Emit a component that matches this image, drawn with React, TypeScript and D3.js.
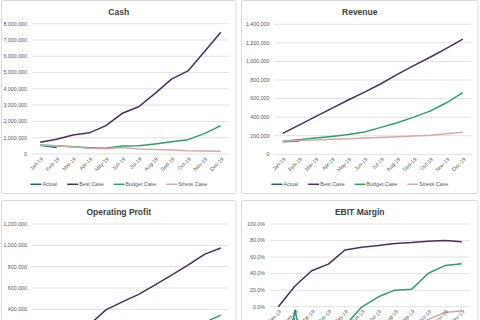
import React, { useEffect, useRef } from 'react';
import * as d3 from 'd3';

const months = ['Jan-19', 'Feb-19', 'Mar-19', 'Apr-19', 'May-19', 'Jun-19', 'Jul-19', 'Aug-19', 'Sep-19', 'Oct-19', 'Nov-19', 'Dec-19'];
const seriesNames = ['Actual', 'Best Case', 'Budget Case', 'Stress Case'];
const seriesColors = ['#1f5f7f', '#4a2f5e', '#2f9e6c', '#d2aaa6'];

const cashActual = [530000, 400000];
const cashBest = [720000, 900000, 1170000, 1300000, 1740000, 2500000, 2900000, 3720000, 4600000, 5100000, 6280000, 7480000];
const cashBudget = [540000, 500000, 440000, 390000, 360000, 490000, 500000, 620000, 750000, 880000, 1250000, 1740000];
const cashStress = [540000, 500000, 430000, 350000, 320000, 400000, 310000, 280000, 250000, 200000, 190000, 170000];

const revActual = [135000, 142000];
const revBest = [225000, 315000, 405000, 495000, 585000, 670000, 760000, 860000, 955000, 1045000, 1140000, 1240000];
const revBudget = [140000, 158000, 175000, 192000, 212000, 240000, 290000, 340000, 400000, 465000, 555000, 665000];
const revStress = [140000, 148000, 155000, 162000, 168000, 175000, 182000, 190000, 198000, 206000, 220000, 238000];

const opActual = [-40000, -20000];
const opBest = [0, 78000, 172000, 255000, 395000, 470000, 540000, 630000, 720000, 815000, 915000, 975000];
const opBudget = [-170000, -6000, -175000, -95000, -48000, -1000, 35000, 68000, 84000, 188000, 276000, 346000];
const opStress = [-50000, -60000, -70000, -60000, -50000, -45000, -40000, -35000, -50000, -32000, -15000, -12000];

const ebitActual = [-0.3, -0.14];
const ebitBest = [0, 0.25, 0.435, 0.515, 0.685, 0.72, 0.74, 0.765, 0.775, 0.79, 0.8, 0.785];
const ebitBudget = [-1.2, -0.04, -1.0, -0.5, -0.23, -0.005, 0.12, 0.2, 0.21, 0.405, 0.497, 0.52];
const ebitStress = [-0.35, -0.4, -0.45, -0.37, -0.3, -0.26, -0.25, -0.22, -0.25, -0.155, -0.07, -0.05];

const FONT = '"Liberation Sans", Arial, sans-serif';
const H = 320;

const App = () => {
  const ref = useRef<SVGSVGElement>(null);

  useEffect(() => {
    const svg = d3.select(ref.current);
    svg.selectAll('*').remove();

    const panels = [
      { title: 'Cash', left: 1.5, top: 0.5, w: 234.5, plot: [32, 229], zeroY: 154, topY: 23.7, max: 8000000, step: 1000000, fmt: d3.format(','), data: [cashActual, cashBest, cashBudget, cashStress] },
      { title: 'Revenue', left: 241.5, top: 0.5, w: 236.5, plot: [274.5, 471], zeroY: 154.3, topY: 24.3, max: 1400000, step: 200000, fmt: d3.format(','), data: [revActual, revBest, revBudget, revStress] },
      { title: 'Operating Profit', left: 1.5, top: 200.5, w: 234.5, plot: [32, 229], zeroY: 352, topY: 224, max: 1200000, step: 200000, fmt: d3.format(','), data: [opActual, opBest, opBudget, opStress] },
      { title: 'EBIT Margin', left: 241.5, top: 200.5, w: 236.5, plot: [270, 470], zeroY: 306.7, topY: 224, max: 1, step: 0.2, fmt: d3.format('.1%'), data: [ebitActual, ebitBest, ebitBudget, ebitStress] },
    ];

    panels.forEach((p, pi) => {
      const h = 193;
      const g = svg.append('g');
      const clipId = `clip${pi}`;
      svg.append('clipPath').attr('id', clipId)
        .append('rect').attr('x', p.left).attr('y', p.top).attr('width', p.w).attr('height', h);

      g.append('rect')
        .attr('x', p.left).attr('y', p.top).attr('width', p.w).attr('height', h)
        .attr('rx', 2).attr('fill', '#fff').attr('stroke', '#d9d9d9');

      const x = d3.scaleBand().domain(months).range(p.plot as [number, number]);
      const y = d3.scaleLinear().domain([0, p.max]).range([p.zeroY, p.topY]);
      const ticks = d3.range(0, p.max + p.step / 2, p.step);

      // gridlines
      g.selectAll('.grid').data(ticks).enter().append('line')
        .attr('x1', p.plot[0]).attr('x2', p.plot[1])
        .attr('y1', d => y(d)).attr('y2', d => y(d))
        .attr('stroke', '#d9d9d9').attr('stroke-width', 0.8);

      // tick labels (only those inside the page)
      g.selectAll('.ytick').data(ticks.filter(d => y(d) < H - 4)).enter().append('text')
        .attr('x', p.plot[0] - 5).attr('y', d => y(d)).attr('dy', '0.35em')
        .attr('text-anchor', 'end').attr('font-family', FONT).attr('font-size', 5.3)
        .attr('fill', '#595959').text(d => p.fmt(d));

      // title
      g.append('text')
        .attr('x', p.left + p.w / 2).attr('y', p.top + 14.5)
        .attr('text-anchor', 'middle').attr('font-family', FONT).attr('font-size', 8.5)
        .attr('font-weight', 'bold').attr('fill', '#404040').text(p.title);

      // lines
      const line = d3.line<number>()
        .x((_, i) => (x(months[i]) as number) + x.bandwidth() / 2)
        .y(d => y(d));
      const lg = g.append('g').attr('clip-path', `url(#${clipId})`);
      p.data.forEach((vals, si) => {
        lg.append('path').attr('d', line(vals) as string)
          .attr('fill', 'none').attr('stroke', seriesColors[si])
          .attr('stroke-width', 1.5).attr('stroke-linejoin', 'round');
      });

      // x labels sit on the zero line
      if (p.zeroY + 4 < H) {
        g.selectAll('.xtick').data(months).enter().append('text')
          .attr('transform', d => `translate(${(x(d) as number) + x.bandwidth() / 2 + 2},${p.zeroY + 4}) rotate(-45)`)
          .attr('text-anchor', 'end').attr('dy', '0.35em')
          .attr('font-family', FONT).attr('font-size', 5.3).attr('fill', '#595959')
          .text(d => d);
      }

      // legend
      if (p.top + 184 < H) {
        const leg = g.append('g');
        let cx = 0;
        seriesNames.forEach((name, si) => {
          leg.append('line').attr('x1', cx).attr('x2', cx + 11).attr('y1', 0).attr('y2', 0)
            .attr('stroke', seriesColors[si]).attr('stroke-width', 1.5);
          const t = leg.append('text').attr('x', cx + 12).attr('y', 0).attr('dy', '0.35em')
            .attr('font-family', FONT).attr('font-size', 5.3).attr('fill', '#595959').text(name);
          const tw = (t.node() as SVGTextElement).getComputedTextLength();
          cx += 12 + tw + 10;
        });
        const legW = cx - 10;
        leg.attr('transform', `translate(${p.left + p.w / 2 - legW / 2},${p.top + 183.8})`);
      }
    });
  }, []);

  return (
    <svg ref={ref} width={480} height={320} style={{ position: 'absolute', left: 0, top: 0, background: '#fff' }} />
  );
};

export default App;
